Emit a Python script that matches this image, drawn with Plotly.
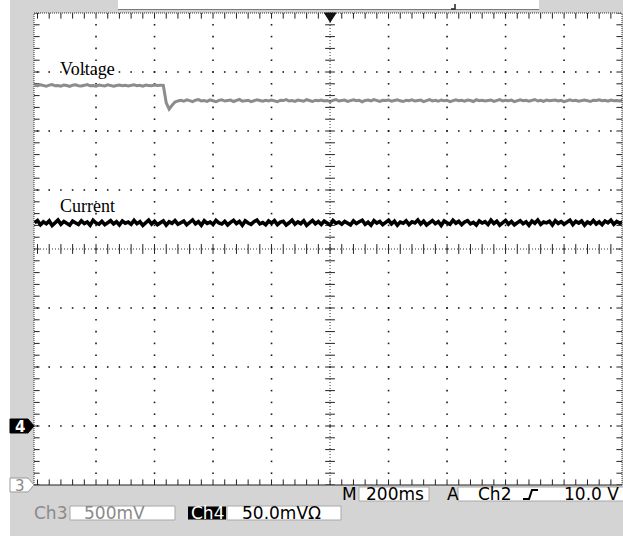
import plotly.graph_objects as go
import numpy as np

t_start = -1.01          # s, first sample
dt = 0.01                # s, sample interval (M 200ms / div)

# Ch3 "Voltage" (V), 500 mV/div, ground marker at bottom of screen
voltage_before = [
    3.388, 3.383, 3.391, 3.384, 3.379, 3.389, 3.393, 3.383, 3.386, 3.380,
    3.390, 3.385, 3.378, 3.388, 3.392, 3.384, 3.381, 3.387, 3.394, 3.383,
    3.386, 3.380, 3.389, 3.385, 3.382, 3.391, 3.387, 3.379, 3.386, 3.390,
    3.383, 3.388, 3.381, 3.385, 3.392, 3.384, 3.387, 3.380, 3.389, 3.386,
    3.383, 3.390, 3.385, 3.388, 3.387]
voltage_step = [3.240, 3.186, 3.218, 3.246, 3.255]
voltage_after = [
    3.260, 3.252, 3.264, 3.257, 3.249, 3.261, 3.266, 3.255, 3.258, 3.251, 3.263, 3.256, 3.248, 3.260, 3.265, 3.254,
    3.259, 3.262, 3.250, 3.257, 3.268, 3.253, 3.258, 3.261, 3.249, 3.256, 3.264, 3.259, 3.252, 3.260, 3.255, 3.263,
    3.257, 3.248, 3.261, 3.258, 3.266, 3.254, 3.259, 3.251, 3.262, 3.257, 3.253, 3.265, 3.258, 3.250, 3.261, 3.256,
    3.263, 3.255, 3.259, 3.249, 3.260, 3.267, 3.254, 3.258, 3.262, 3.251, 3.257, 3.264, 3.256, 3.260, 3.248, 3.259,
    3.262, 3.255, 3.266, 3.257, 3.251, 3.260, 3.258, 3.263, 3.253, 3.259, 3.265, 3.256, 3.250, 3.261, 3.257, 3.264,
    3.254, 3.259, 3.262, 3.249, 3.258, 3.266, 3.255, 3.260, 3.252, 3.263, 3.257, 3.261, 3.248, 3.259, 3.264, 3.256,
    3.260, 3.253, 3.262, 3.258, 3.250, 3.265, 3.257, 3.261, 3.254, 3.259, 3.263, 3.251, 3.258, 3.266, 3.255, 3.260,
    3.257, 3.262, 3.249, 3.259, 3.264, 3.256, 3.261, 3.253, 3.258, 3.267, 3.254, 3.260, 3.251, 3.263, 3.257, 3.259,
    3.262, 3.255, 3.260, 3.248, 3.258, 3.265, 3.256, 3.261, 3.253, 3.259, 3.263, 3.257, 3.250, 3.261, 3.258, 3.264,
    3.256, 3.260, 3.252, 3.262, 3.257, 3.259, 3.254, 3.261]
voltage = voltage_before + voltage_step + voltage_after

# Ch4 "Current" (A), 50.0 mV/div (1 ohm), ground marker "4"
current = [
    0.1722, 0.1741, 0.1705, 0.1730, 0.1714, 0.1738, 0.1699, 0.1727, 0.1745, 0.1710, 0.1733, 0.1718, 0.1702, 0.1736, 0.1724, 0.1708,
    0.1739, 0.1716, 0.1729, 0.1701, 0.1743, 0.1720, 0.1711, 0.1734, 0.1706, 0.1725, 0.1740, 0.1713, 0.1731, 0.1704, 0.1737, 0.1719,
    0.1728, 0.1709, 0.1742, 0.1715, 0.1732, 0.1700, 0.1726, 0.1744, 0.1712, 0.1735, 0.1707, 0.1721, 0.1738, 0.1703, 0.1730, 0.1717,
    0.1741, 0.1710, 0.1727, 0.1736, 0.1705, 0.1723, 0.1746, 0.1714, 0.1731, 0.1702, 0.1739, 0.1718, 0.1729, 0.1708, 0.1742, 0.1721,
    0.1712, 0.1735, 0.1704, 0.1726, 0.1743, 0.1716, 0.1733, 0.1701, 0.1738, 0.1720, 0.1709, 0.1731, 0.1745, 0.1713, 0.1724, 0.1706,
    0.1737, 0.1719, 0.1740, 0.1707, 0.1728, 0.1734, 0.1703, 0.1722, 0.1744, 0.1711, 0.1730, 0.1715, 0.1739, 0.1700, 0.1725, 0.1742,
    0.1714, 0.1732, 0.1708, 0.1736, 0.1720, 0.1703, 0.1741, 0.1717, 0.1729, 0.1710, 0.1734, 0.1723, 0.1705, 0.1738, 0.1716, 0.1731,
    0.1744, 0.1709, 0.1727, 0.1702, 0.1740, 0.1719, 0.1733, 0.1706, 0.1725, 0.1743, 0.1712, 0.1735, 0.1701, 0.1728, 0.1718, 0.1739,
    0.1707, 0.1730, 0.1721, 0.1745, 0.1711, 0.1736, 0.1704, 0.1724, 0.1741, 0.1715, 0.1732, 0.1700, 0.1737, 0.1722, 0.1710, 0.1743,
    0.1719, 0.1734, 0.1706, 0.1729, 0.1740, 0.1713, 0.1726, 0.1703, 0.1738, 0.1720, 0.1731, 0.1708, 0.1744, 0.1716, 0.1735, 0.1702,
    0.1727, 0.1742, 0.1711, 0.1733, 0.1705, 0.1723, 0.1739, 0.1714, 0.1730, 0.1701, 0.1736, 0.1718, 0.1745, 0.1709, 0.1728, 0.1721,
    0.1735, 0.1704, 0.1740, 0.1717, 0.1732, 0.1710, 0.1726, 0.1743, 0.1707, 0.1734, 0.1720, 0.1738, 0.1703, 0.1729, 0.1715, 0.1741,
    0.1712, 0.1730, 0.1706, 0.1737, 0.1722, 0.1744, 0.1710, 0.1733, 0.1719, 0.1728]

trace_labels = ["Voltage", "Current"]
readouts = {"ch3": "500mV", "ch4": "50.0mVΩ", "time": "200ms", "trig_src": "Ch2", "trig_lvl": "10.0 V"}

t_volt = [t_start + dt * i for i in range(len(voltage))]
t_curr = [t_start + dt * i for i in range(len(current))]

# ---------------- layout geometry ----------------
W, H = 623, 536
ML, MR, MT, MB = 34, 1, 13, 51
PW = W - ML - MR
PH = H - MT - MB

def px(x):
    return (x - ML) / PW

def py(y):
    return (H - MB - y) / PH

def path(points, close=True):
    s = "M " + " L ".join(f"{px(x):.5f},{py(y):.5f}" for x, y in points)
    return s + (" Z" if close else "")

BG = "#d4d4d4"
TXT_GRAY = "#8a8a8a"
X_RANGE = [-1.012, 0.998]
V_RANGE = [0.0, 4.0]
I_RANGE = [-0.05, 0.35]

fig = go.Figure()

# grid dots on major lines
gx, gy = [], []
for tv in [-0.8, -0.6, -0.4, -0.2, 0.2, 0.4, 0.6, 0.8]:
    for k in range(1, 40):
        gx.append(tv); gy.append(0.1 * k)
for vv in [0.5, 1.0, 1.5, 2.5, 3.0, 3.5]:
    for k in range(0, 51):
        gx.append(-1.0 + 0.04 * k); gy.append(vv)
fig.add_trace(go.Scatter(x=gx, y=gy, mode="markers", hoverinfo="skip",
                         marker=dict(symbol="square", size=1.6, color="#1a1a1a", line_width=0)))

# centre cross ticks
ctx = [0.0] * 41
cty = [0.1 * k for k in range(41)]
fig.add_trace(go.Scatter(x=ctx, y=cty, mode="markers", hoverinfo="skip",
                         marker=dict(symbol="line-ew", size=7, line=dict(width=1, color="#222"))))
chx = [-1.0 + 0.04 * k for k in range(51)]
chy = [2.0] * 51
fig.add_trace(go.Scatter(x=chx, y=chy, mode="markers", hoverinfo="skip",
                         marker=dict(symbol="line-ns", size=7, line=dict(width=1, color="#222"))))
# border ticks
bx = [X_RANGE[0]] * 41 + [X_RANGE[1]] * 41
by = [0.1 * k for k in range(41)] * 2
fig.add_trace(go.Scatter(x=bx, y=by, mode="markers", hoverinfo="skip",
                         marker=dict(symbol="line-ew", size=8, line=dict(width=1, color="#222"))))
tbx = chx * 2
tby = [V_RANGE[0]] * 51 + [V_RANGE[1]] * 51
fig.add_trace(go.Scatter(x=tbx, y=tby, mode="markers", hoverinfo="skip",
                         marker=dict(symbol="line-ns", size=8, line=dict(width=1, color="#222"))))

# signal traces
fig.add_trace(go.Scatter(x=t_volt, y=voltage, mode="lines", name=trace_labels[0],
                         line=dict(color="#8c8c8c", width=3), yaxis="y"))
fig.add_trace(go.Scatter(x=t_curr, y=current, mode="lines", name=trace_labels[1],
                         line=dict(color="#000000", width=3.6), yaxis="y2"))

shapes = []
# left white strip
shapes.append(dict(type="rect", xref="paper", yref="paper", x0=px(-2), x1=px(10), y0=py(540), y1=py(-2),
                   fillcolor="white", line_width=0, layer="below"))
# top white bar
shapes.append(dict(type="rect", xref="paper", yref="paper", x0=px(118), x1=px(539), y0=py(9.5), y1=py(-2),
                   fillcolor="white", line_width=0))
shapes.append(dict(type="line", xref="paper", yref="paper", x0=px(118), x1=px(539), y0=py(9.5), y1=py(9.5),
                   line=dict(color="#7a7a7a", width=1)))
# small record marker in top bar
shapes.append(dict(type="path", xref="paper", yref="paper", path=path([(455, 4), (455, 9), (451, 9)], close=False),
                   line=dict(color="#222", width=1.5)))
# centre lines
shapes.append(dict(type="line", xref="x", yref="paper", x0=0, x1=0, y0=0, y1=1,
                   line=dict(color="#333", width=1, dash="1px,2px")))
shapes.append(dict(type="line", xref="paper", yref="y", x0=0, x1=1, y0=2, y1=2,
                   line=dict(color="#333", width=1, dash="1px,2px")))
# borders
for (x0, y0, x1, y1) in [(0, 1, 1, 1), (0, 0, 0, 1), (1, 0, 1, 1)]:
    shapes.append(dict(type="line", xref="paper", yref="paper", x0=x0, x1=x1, y0=y0, y1=y1,
                       line=dict(color="#333", width=1, dash="1px,1px")))
shapes.append(dict(type="line", xref="paper", yref="paper", x0=0, x1=1, y0=0, y1=0,
                   line=dict(color="#222", width=1.2)))
# trigger position triangle
shapes.append(dict(type="path", xref="paper", yref="paper", path=path([(324.5, 13), (336, 13), (330.2, 22)]),
                   fillcolor="#111", line=dict(color="#111", width=1)))
# channel markers
shapes.append(dict(type="path", xref="paper", yref="paper",
                   path=path([(10, 419), (28, 419), (34, 426), (28, 433), (10, 433)]),
                   fillcolor="#000", line=dict(color="#000", width=1)))
shapes.append(dict(type="path", xref="paper", yref="paper",
                   path=path([(10, 478), (28, 478), (34, 485), (28, 492), (10, 492)]),
                   fillcolor="white", line=dict(color="#9a9a9a", width=1)))
# readout boxes
for (x0, y0, x1, y1) in [(70, 506, 175, 520), (227, 506, 341, 520), (359, 487, 429, 501), (458, 487, 625, 501)]:
    shapes.append(dict(type="rect", xref="paper", yref="paper", x0=px(x0), x1=px(x1), y0=py(y1), y1=py(y0),
                       fillcolor="white", line=dict(color="#a8a8a8", width=1)))
shapes.append(dict(type="rect", xref="paper", yref="paper", x0=px(188), x1=px(226), y0=py(519.5), y1=py(506.5),
                   fillcolor="#000", line_width=0))
# trigger slope symbol
shapes.append(dict(type="path", xref="paper", yref="paper",
                   path=path([(523, 499), (529, 499), (532, 490), (538, 490)], close=False),
                   line=dict(color="#000", width=2)))

ann = []
def text(x, y, s, size=17, color="#000", family="DejaVu Sans", xanchor="center", bold=False):
    if bold:
        s = f"<b>{s}</b>"
    ann.append(dict(x=px(x), y=py(y), xref="paper", yref="paper", text=s, showarrow=False,
                    xanchor=xanchor, yanchor="middle", font=dict(size=size, color=color, family=family)))

text(58, 69, trace_labels[0], size=18, family="Liberation Serif", xanchor="left")
text(58, 206, trace_labels[1], size=18, family="Liberation Serif", xanchor="left")
text(19.5, 426.5, "4", size=15, color="white", bold=True)
text(19.5, 485.5, "3", size=15, color=TXT_GRAY)
text(50.5, 513, "Ch3", color=TXT_GRAY)
text(115, 513, readouts["ch3"], color=TXT_GRAY)
text(207, 513, "Ch4", color="white")
text(281, 513, readouts["ch4"])
text(349.5, 494, "M")
text(394.5, 494, readouts["time"])
text(452.5, 494, "A")
text(494.5, 494, readouts["trig_src"])
text(621, 494, readouts["trig_lvl"], xanchor="right")

fig.update_layout(
    width=W, height=H,
    margin=dict(l=ML, r=MR, t=MT, b=MB, pad=0),
    paper_bgcolor=BG, plot_bgcolor="white",
    showlegend=False,
    xaxis=dict(range=X_RANGE, visible=False, fixedrange=True),
    yaxis=dict(range=V_RANGE, visible=False, fixedrange=True),
    yaxis2=dict(range=I_RANGE, visible=False, overlaying="y", fixedrange=True),
    shapes=shapes, annotations=ann,
)

fig.write_html("out.html")
